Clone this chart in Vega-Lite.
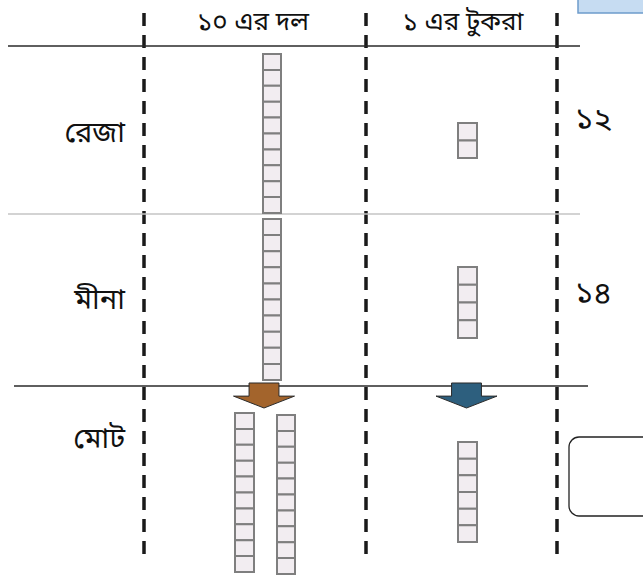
{
  "$schema": "https://vega.github.io/schema/vega-lite/v6.json",
  "width": 643,
  "height": 575,
  "padding": 0,
  "autosize": {"type": "fit", "contains": "padding"},
  "background": "white",
  "config": {"view": {"stroke": null}},
  "datasets": {
    "vlines": [{"x": 144, "y": 13, "y2": 558}, {"x": 366, "y": 13, "y2": 558}, {"x": 557, "y": 13, "y2": 558}],
    "hlines": [
      {"y": 46, "x": 8, "x2": 580, "kind": "main"},
      {"y": 214, "x": 8, "x2": 580, "kind": "light"},
      {"y": 386, "x": 14, "x2": 588, "kind": "main"}
    ],
    "cubes": [
      {"rod": "reza10", "x": 263, "x2": 281, "y": 54, "y2": 69.9},
      {"rod": "reza10", "x": 263, "x2": 281, "y": 69.9, "y2": 85.8},
      {"rod": "reza10", "x": 263, "x2": 281, "y": 85.8, "y2": 101.7},
      {"rod": "reza10", "x": 263, "x2": 281, "y": 101.7, "y2": 117.6},
      {"rod": "reza10", "x": 263, "x2": 281, "y": 117.6, "y2": 133.5},
      {"rod": "reza10", "x": 263, "x2": 281, "y": 133.5, "y2": 149.4},
      {"rod": "reza10", "x": 263, "x2": 281, "y": 149.4, "y2": 165.3},
      {"rod": "reza10", "x": 263, "x2": 281, "y": 165.3, "y2": 181.2},
      {"rod": "reza10", "x": 263, "x2": 281, "y": 181.2, "y2": 197.1},
      {"rod": "reza10", "x": 263, "x2": 281, "y": 197.1, "y2": 213},
      {"rod": "meena10", "x": 263, "x2": 281, "y": 219, "y2": 235.1},
      {"rod": "meena10", "x": 263, "x2": 281, "y": 235.1, "y2": 251.2},
      {"rod": "meena10", "x": 263, "x2": 281, "y": 251.2, "y2": 267.3},
      {"rod": "meena10", "x": 263, "x2": 281, "y": 267.3, "y2": 283.4},
      {"rod": "meena10", "x": 263, "x2": 281, "y": 283.4, "y2": 299.5},
      {"rod": "meena10", "x": 263, "x2": 281, "y": 299.5, "y2": 315.6},
      {"rod": "meena10", "x": 263, "x2": 281, "y": 315.6, "y2": 331.7},
      {"rod": "meena10", "x": 263, "x2": 281, "y": 331.7, "y2": 347.8},
      {"rod": "meena10", "x": 263, "x2": 281, "y": 347.8, "y2": 363.9},
      {"rod": "meena10", "x": 263, "x2": 281, "y": 363.9, "y2": 380},
      {"rod": "reza1", "x": 458, "x2": 477, "y": 123, "y2": 140.5},
      {"rod": "reza1", "x": 458, "x2": 477, "y": 140.5, "y2": 158},
      {"rod": "meena1", "x": 458, "x2": 477, "y": 267, "y2": 284.8},
      {"rod": "meena1", "x": 458, "x2": 477, "y": 284.8, "y2": 302.5},
      {"rod": "meena1", "x": 458, "x2": 477, "y": 302.5, "y2": 320.3},
      {"rod": "meena1", "x": 458, "x2": 477, "y": 320.3, "y2": 338},
      {"rod": "totalA", "x": 235, "x2": 254, "y": 413, "y2": 428.9},
      {"rod": "totalA", "x": 235, "x2": 254, "y": 428.9, "y2": 444.8},
      {"rod": "totalA", "x": 235, "x2": 254, "y": 444.8, "y2": 460.7},
      {"rod": "totalA", "x": 235, "x2": 254, "y": 460.7, "y2": 476.6},
      {"rod": "totalA", "x": 235, "x2": 254, "y": 476.6, "y2": 492.5},
      {"rod": "totalA", "x": 235, "x2": 254, "y": 492.5, "y2": 508.4},
      {"rod": "totalA", "x": 235, "x2": 254, "y": 508.4, "y2": 524.3},
      {"rod": "totalA", "x": 235, "x2": 254, "y": 524.3, "y2": 540.2},
      {"rod": "totalA", "x": 235, "x2": 254, "y": 540.2, "y2": 556.1},
      {"rod": "totalA", "x": 235, "x2": 254, "y": 556.1, "y2": 572},
      {"rod": "totalB", "x": 277, "x2": 295, "y": 415, "y2": 430.9},
      {"rod": "totalB", "x": 277, "x2": 295, "y": 430.9, "y2": 446.8},
      {"rod": "totalB", "x": 277, "x2": 295, "y": 446.8, "y2": 462.7},
      {"rod": "totalB", "x": 277, "x2": 295, "y": 462.7, "y2": 478.6},
      {"rod": "totalB", "x": 277, "x2": 295, "y": 478.6, "y2": 494.5},
      {"rod": "totalB", "x": 277, "x2": 295, "y": 494.5, "y2": 510.4},
      {"rod": "totalB", "x": 277, "x2": 295, "y": 510.4, "y2": 526.3},
      {"rod": "totalB", "x": 277, "x2": 295, "y": 526.3, "y2": 542.2},
      {"rod": "totalB", "x": 277, "x2": 295, "y": 542.2, "y2": 558.1},
      {"rod": "totalB", "x": 277, "x2": 295, "y": 558.1, "y2": 574},
      {"rod": "total1", "x": 458, "x2": 477, "y": 442, "y2": 458.7},
      {"rod": "total1", "x": 458, "x2": 477, "y": 458.7, "y2": 475.3},
      {"rod": "total1", "x": 458, "x2": 477, "y": 475.3, "y2": 492},
      {"rod": "total1", "x": 458, "x2": 477, "y": 492, "y2": 508.7},
      {"rod": "total1", "x": 458, "x2": 477, "y": 508.7, "y2": 525.3},
      {"rod": "total1", "x": 458, "x2": 477, "y": 525.3, "y2": 542}
    ],
    "headers": [
      {"x": 253, "y": 22, "text": "১০ এর দল"},
      {"x": 463, "y": 22, "text": "১ এর টুকরা"}
    ],
    "rowlabels": [
      {"x": 125, "y": 133, "text": "রেজা"},
      {"x": 125, "y": 300, "text": "মীনা"},
      {"x": 125, "y": 439, "text": "মোট"}
    ],
    "numbers": [
      {"x": 575, "y": 120, "text": "১২"},
      {"x": 575, "y": 294, "text": "১৪"}
    ],
    "arrows": [
      {"x": 264, "y": 395.5, "kind": "tens"},
      {"x": 466.5, "y": 395.5, "kind": "ones"}
    ],
    "boxes": [
      {"x": 578, "x2": 660, "y": -10, "y2": 13, "kind": "tab"}
    ],
    "answer": [
      {"x": 569, "x2": 660, "y": 437, "y2": 516}
    ]
  },
  "layer": [
    {
      "data": {"name": "vlines"},
      "mark": {"type": "rule", "strokeDash": [13, 9], "strokeWidth": 3.5, "color": "#1a1a1a"},
      "encoding": {
        "x": {"field": "x", "type": "quantitative", "scale": {"domain": [0, 643], "nice": false, "zero": false}, "axis": null},
        "y": {"field": "y", "type": "quantitative", "scale": {"domain": [0, 575], "nice": false, "zero": false, "reverse": true}, "axis": null},
        "y2": {"field": "y2"}
      }
    },
    {
      "data": {"name": "hlines"},
      "mark": {"type": "rule", "strokeWidth": 1.3},
      "encoding": {
        "x": {"field": "x", "type": "quantitative"},
        "x2": {"field": "x2"},
        "y": {"field": "y", "type": "quantitative"},
        "color": {"field": "kind", "type": "nominal", "scale": {"domain": ["main", "light"], "range": ["#2a2a2a", "#c4c4c4"]}, "legend": null}
      }
    },
    {
      "data": {"name": "cubes"},
      "mark": {"type": "rect", "fill": "#f2edf1", "stroke": "#7f7f7f", "strokeWidth": 2},
      "encoding": {
        "x": {"field": "x", "type": "quantitative"},
        "x2": {"field": "x2"},
        "y": {"field": "y", "type": "quantitative"},
        "y2": {"field": "y2"}
      }
    },
    {
      "data": {"name": "arrows"},
      "mark": {"type": "point", "filled": true, "opacity": 1, "stroke": "#2b2b2b", "strokeWidth": 1, "size": 3721, "shape": "M-0.49,-0.41 L0.49,-0.41 L0.49,0.02 L1,0.02 L0,0.41 L-1,0.02 L-0.49,0.02 Z"},
      "encoding": {
        "x": {"field": "x", "type": "quantitative"},
        "y": {"field": "y", "type": "quantitative"},
        "fill": {"field": "kind", "type": "nominal", "scale": {"domain": ["tens", "ones"], "range": ["#a3642c", "#2d5f7e"]}, "legend": null}
      }
    },
    {
      "data": {"name": "boxes"},
      "mark": {"type": "rect", "fill": "#c6dcf2", "stroke": "#6e9ccb", "strokeWidth": 1.5, "clip": true},
      "encoding": {
        "x": {"field": "x", "type": "quantitative"},
        "x2": {"field": "x2"},
        "y": {"field": "y", "type": "quantitative"},
        "y2": {"field": "y2"}
      }
    },
    {
      "data": {"name": "answer"},
      "mark": {"type": "rect", "fill": "white", "stroke": "#222222", "strokeWidth": 1.3, "cornerRadius": 10, "clip": true},
      "encoding": {
        "x": {"field": "x", "type": "quantitative"},
        "x2": {"field": "x2"},
        "y": {"field": "y", "type": "quantitative"},
        "y2": {"field": "y2"}
      }
    },
    {
      "data": {"name": "headers"},
      "mark": {"type": "text", "align": "center", "baseline": "middle", "fontSize": 26, "font": "Noto Sans Bengali, Noto Sans, sans-serif", "color": "#111"},
      "encoding": {
        "x": {"field": "x", "type": "quantitative"},
        "y": {"field": "y", "type": "quantitative"},
        "text": {"field": "text"}
      }
    },
    {
      "data": {"name": "rowlabels"},
      "mark": {"type": "text", "align": "right", "baseline": "middle", "fontSize": 29, "font": "Noto Sans Bengali, Noto Sans, sans-serif", "color": "#111"},
      "encoding": {
        "x": {"field": "x", "type": "quantitative"},
        "y": {"field": "y", "type": "quantitative"},
        "text": {"field": "text"}
      }
    },
    {
      "data": {"name": "numbers"},
      "mark": {"type": "text", "align": "left", "baseline": "middle", "fontSize": 31, "font": "Noto Sans Bengali, Noto Sans, sans-serif", "color": "#111"},
      "encoding": {
        "x": {"field": "x", "type": "quantitative"},
        "y": {"field": "y", "type": "quantitative"},
        "text": {"field": "text"}
      }
    }
  ]
}
